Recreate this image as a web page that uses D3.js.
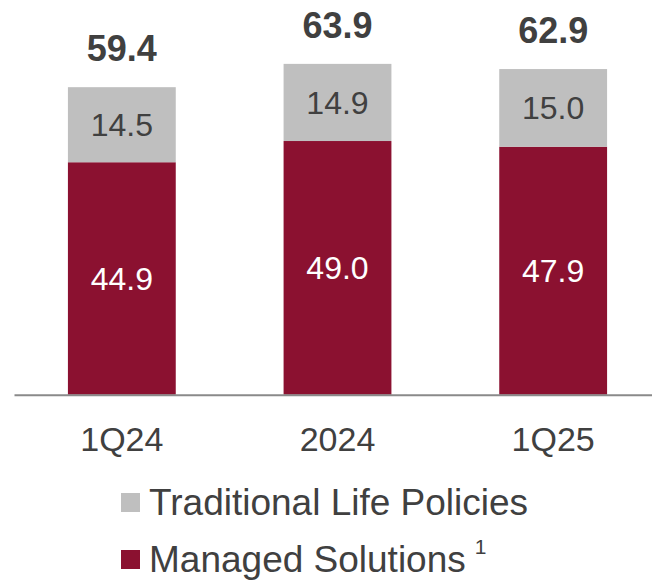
<!DOCTYPE html>
<html>
<head>
<meta charset="utf-8">
<script src="https://cdn.jsdelivr.net/npm/d3@7"></script>
<style>
  html, body { margin: 0; padding: 0; background: #ffffff; }
  svg { display: block; }
  text { font-family: "Liberation Sans", Arial, Helvetica, sans-serif; }
</style>
</head>
<body>
<svg id="chart" width="652" height="580"></svg>
<script>
// Periods on the x axis
const categories = ["1Q24", "2024", "1Q25"];
// Segment values (bottom to top of each stack)
const managedSolutions = [44.9, 49.0, 47.9];
const traditionalLife = [14.5, 14.9, 15.0];
// Totals printed above each bar
const totals = [59.4, 63.9, 62.9];

const seriesNames = ["Managed Solutions", "Traditional Life Policies"];
const colors = { "Managed Solutions": "#8B1130", "Traditional Life Policies": "#BFBFBF" };
const textColor = "#404040";

const rows = categories.map((c, i) => ({
  category: c,
  "Managed Solutions": managedSolutions[i],
  "Traditional Life Policies": traditionalLife[i],
  total: totals[i]
}));

const svg = d3.select("#chart");

const x = d3.scaleBand()
  .domain(categories)
  .range([14, 661])
  .paddingInner(0.5)
  .paddingOuter(0.25);

const y = d3.scaleLinear()
  .domain([0, 70])
  .range([394.7, 32.3]);

const stack = d3.stack().keys(seriesNames);
const layers = stack(rows);

// Stacked bars
const layerG = svg.selectAll("g.layer")
  .data(layers)
  .join("g")
  .attr("class", "layer")
  .attr("fill", d => colors[d.key]);

layerG.selectAll("rect")
  .data(d => d)
  .join("rect")
  .attr("x", d => x(d.data.category))
  .attr("width", x.bandwidth())
  .attr("y", d => y(d[1]))
  .attr("height", d => y(d[0]) - y(d[1]));

// Segment value labels
layerG.selectAll("text")
  .data(d => d.map(v => ({ v, key: d.key })))
  .join("text")
  .attr("x", d => x(d.v.data.category) + x.bandwidth() / 2)
  .attr("y", d => (y(d.v[0]) + y(d.v[1])) / 2)
  .attr("dy", "0.36em")
  .attr("text-anchor", "middle")
  .attr("font-size", 32)
  .attr("fill", d => d.key === "Managed Solutions" ? "#ffffff" : textColor)
  .text(d => d.v.data[d.key].toFixed(1));

// Totals above bars
svg.append("g")
  .selectAll("text")
  .data(rows)
  .join("text")
  .attr("x", d => x(d.category) + x.bandwidth() / 2)
  .attr("y", d => y(d.total) - 26)
  .attr("text-anchor", "middle")
  .attr("font-size", 36)
  .attr("font-weight", "bold")
  .attr("fill", textColor)
  .text(d => d.total.toFixed(1));

// Category axis
const xAxis = svg.append("g")
  .attr("transform", `translate(0,${y(0)})`)
  .call(d3.axisBottom(x).tickSize(0).tickPadding(0));
xAxis.select(".domain")
  .attr("stroke", "#8a8a8a")
  .attr("stroke-width", 2);
xAxis.selectAll(".tick text")
  .attr("font-size", 34)
  .attr("font-family", "'Liberation Sans', Arial, sans-serif")
  .attr("fill", textColor)
  .attr("dy", null)
  .attr("y", 56);

// Legend
const legendItems = [
  { name: "Traditional Life Policies", note: "" },
  { name: "Managed Solutions", note: "1" }
];
const legend = svg.append("g");
const li = legend.selectAll("g")
  .data(legendItems)
  .join("g")
  .attr("transform", (d, i) => `translate(121,${493 + i * 57})`);
li.append("rect")
  .attr("width", 19)
  .attr("height", 19)
  .attr("fill", d => colors[d.name]);
const lt = li.append("text")
  .attr("x", 28)
  .attr("y", 22)
  .attr("font-size", 37)
  .attr("fill", textColor);
lt.append("tspan").text(d => d.name);
lt.filter(d => d.note)
  .append("tspan")
  .attr("dx", 9)
  .attr("dy", -18)
  .attr("font-size", 21)
  .text(d => d.note);
</script>
</body>
</html>
